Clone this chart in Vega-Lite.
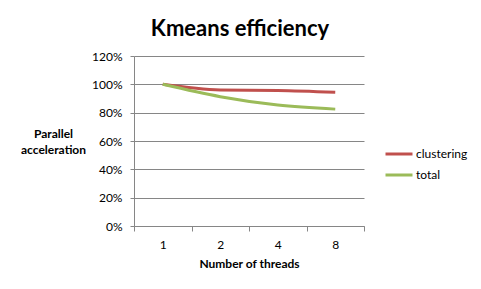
{
  "$schema": "https://vega.github.io/schema/vega-lite/v6.json",
  "autosize": "none",
  "width": 230,
  "height": 170,
  "padding": {"left": 134, "top": 56, "right": 117, "bottom": 63},
  "background": "white",
  "config": {"font": "Lato", "view": {"stroke": null}},
  "title": {"text": "Kmeans efficiency", "font": "Lato", "fontSize": 22, "fontWeight": "bold", "color": "black", "anchor": "middle", "dx": -9, "offset": 9},
  "data": {"values": [
    {"threads": "1", "series": "clustering", "eff": 1.0},
    {"threads": "2", "series": "clustering", "eff": 0.96},
    {"threads": "4", "series": "clustering", "eff": 0.957},
    {"threads": "8", "series": "clustering", "eff": 0.944},
    {"threads": "1", "series": "total", "eff": 1.0},
    {"threads": "2", "series": "total", "eff": 0.913},
    {"threads": "4", "series": "total", "eff": 0.854},
    {"threads": "8", "series": "total", "eff": 0.825}
  ]},
  "mark": {"type": "line", "strokeWidth": 3, "interpolate": "monotone"},
  "encoding": {
    "x": {"field": "threads", "type": "ordinal", "sort": ["1", "2", "4", "8"],
      "scale": {"paddingInner": 0, "paddingOuter": 0},
      "axis": {"title": "Number of threads", "titleFontWeight": "bold", "titleFontSize": 12, "titleColor": "black", "titlePadding": 8,
        "labelAngle": 0, "labelFontSize": 12, "labelColor": "black", "labelPadding": 8,
        "domainColor": "#868686", "tickColor": "#868686", "tickSize": 5, "tickBand": "extent", "ticks": true}},
    "y": {"field": "eff", "type": "quantitative", "scale": {"domain": [0, 1.2]},
      "axis": {"format": "%", "values": [0, 0.2, 0.4, 0.6, 0.8, 1.0, 1.2], "labelFontSize": 12, "labelColor": "black", "labelPadding": 8,
        "domainColor": "#868686", "tickColor": "#868686", "tickSize": 4, "gridColor": "#868686",
        "title": ["Parallel", "acceleration"], "titleAngle": 0, "titleAlign": "center", "titleBaseline": "top",
        "titleX": -81, "titleY": 72, "titleFontSize": 12, "titleFontWeight": "bold", "titleColor": "black", "titleLineHeight": 16}},
    "color": {"field": "series", "type": "nominal",
      "scale": {"domain": ["clustering", "total"], "range": ["#C0504D", "#9BBB59"]},
      "legend": {"title": null, "orient": "none", "legendX": 250, "legendY": 83, "symbolType": "stroke", "symbolSize": 729, "symbolStrokeWidth": 3,
        "labelFontSize": 12, "labelColor": "black", "rowPadding": -2, "labelOffset": 2}}
  }
}
